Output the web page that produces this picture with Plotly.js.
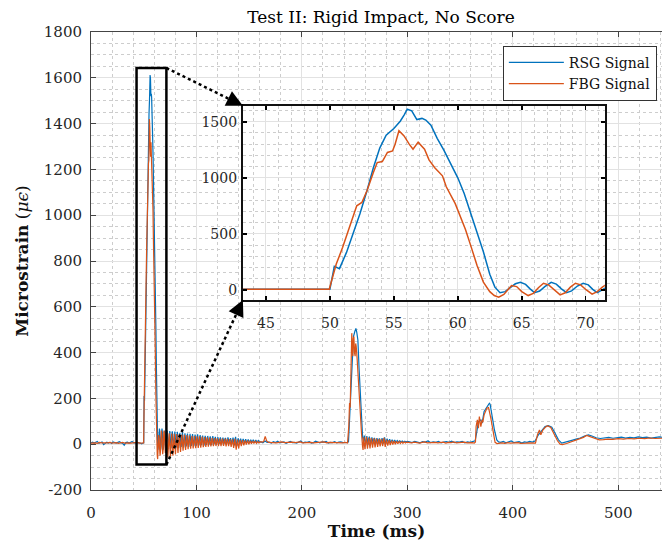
<!DOCTYPE html>
<html>
<head>
<meta charset="utf-8">
<script src="https://cdn.plot.ly/plotly-3.0.1.min.js"></script>
<style>html,body{margin:0;padding:0;background:#fff;}#chart{width:662px;height:541px;}</style>
</head>
<body>
<div id="chart"></div>
<script>
// ---------- RSG signal (time ms, microstrain) ----------
const rsgT0 = [0,1.5,3,4.5,6,7.5,9,10.5,12,13.5,15,16.5,18,19.5,21,22.5,24,25.5,27,28.5,30,31.5,33,34.5,36,37.5,39,40.5,42,43.5,45,46.5,48,49,50];
const rsgV0 = [6,9,5,8,12,4,7,10,-2,6,9,5,8,3,10,7,5,8,11,6,4,-4,7,9,5,8,12,6,7,6,7,5,2,4,6];
const rsgT1 = [50.35,50.75,51.3,51.8,52.35,52.9,53.4,53.9,54.4,55.0,55.5,55.8,56.05,56.4,56.8,57.2,57.5,57.9,58.4,58.9,59.5,60.0,60.5,61.0,61.5,62.0,62.5,62.9,63.3,63.7,64.1,64.5,64.9,65.3,65.65,66.0,66.4,66.8,67.3,67.7,68.1,68.5,68.9,69.35,69.8,70.2,70.55,70.9,71.3,71.7];
const rsgV1 = [210,190,335,498,680,885,1090,1265,1380,1440,1505,1560,1612,1598,1520,1530,1515,1470,1350,1250,1110,1000,860,690,520,340,140,25,-25,-15,20,55,68,50,10,-24,-10,30,68,52,10,-24,-8,35,59,45,5,-24,0,30];
const rsgT2 = [72.3,73.5,74.7,75.9,77.1,78.3,79.5,80.7,81.9,83.1,84.3,85.5,86.7,87.9,89.1,90.3,91.5,92.7,93.9,95.1,96.3,97.5,98.7,99.9,101.1,102.3,103.5,104.7,105.9,107.1,108.3,109.5,110.7,111.9,113.1,114.3,115.5,116.7,117.9,119.1,120.3,121.5,122.7,123.9,125.1,126.3,127.5,128.7,129.9,131.1,132.3,133.5,134.7,135.9,137.1,138.3,139.5,140.7,141.9,143.1,144.3,145.5,146.7,147.9,149.1,150.3,151.5,152.7,153.9,155.1,156.3,157.5,158.7,159.9];
const rsgV2 = [60,-22,58,-18,56,-20,55,-15,54,-16,50,-12,52,-14,48,-10,47,-12,45,-8,44,-9,42,-6,43,-5,40,-4,38,-6,37,-3,36,-2,34,-4,35,0,32,-2,31,1,30,0,29,2,28,1,30,3,27,2,29,-5,32,-8,26,4,24,5,23,4,22,6,21,5,20,7,19,6,18,8,16,9];
const rsgT3 = [161.5,163,165,167,169,171,173,175,177,179,181,183,185,187,189,191,193,195,197,199,201,203,205,207,209,211,213,215,217,219,221,223,225,227,229,231,233,235,237,239,241,243.5];
const rsgV3 = [10,6,14,8,9,5,11,7,13,6,8,10,4,9,12,7,8,5,10,14,6,9,8,11,5,7,13,8,6,10,9,12,5,8,7,11,6,9,10,7,8,8];
const rsgT4 = [244.2,245.5,247.4,248.9,250.2,251.2,252.0,253.1,254.3,256.2,257.6,258.4];
const rsgV4 = [12,150,354,470,492,506,490,455,324,135,30,12];
const rsgT5 = [259.2,260.4,261.6,262.8,264,265.2,266.4,267.6,268.8,270,271.2,272.4,273.6,274.8,276,277.2,278.4,279.6,280.8,282,283.2,284.4,285.6,286.8,288,289.2,290.4,291.6,292.8,294,295.2,296.4,297.6,298.8,300];
const rsgV5 = [38,-5,35,-2,33,0,30,2,28,1,27,3,25,4,26,3,30,2,24,5,22,6,20,7,18,8,16,9,15,10,14,9,13,10,12];
const rsgT6 = [302,304.5,307,309.5,312,314.5,317,319.5,322,324.5,327,329.5,332,334.5,337,339.5,342,344.5,347,349.5,352,354.5,357,359.5,362];
const rsgV6 = [10,7,12,8,6,11,9,14,7,10,8,12,6,9,11,8,13,7,10,9,12,6,10,8,11];
const rsgT7 = [364.3,365.9,367.4,369.7,370.9,372.8,375.4,377.8,378.5,380.1,382.6,384.8,386.5];
const rsgV7 = [15,55,99,106,92,143,165,179,175,128,62,19,10];
const rsgT8 = [388.5,391,393.5,396,398.5,401,403.5,406,408.5,411,413.5,416,418.5];
const rsgV8 = [8,12,6,10,14,7,9,11,5,10,8,12,9];
const rsgT9 = [421.1,424.3,427.5,430.6,433.8,437.0,440.1,443.3,446.4,449,452,456,460,464,468,471.7,475,479,483,487,491,495,499,503,507,511,515,519,523,527,531,535,539,542];
const rsgV9 = [14,41,62,77,81,74,48,19,5,9,13,17,22,27,36,41,36,28,25,28,30,26,29,31,27,30,28,32,29,31,27,30,32,30];

// ---------- FBG signal ----------
const fbgT0 = [0,2,4,6,8,10,12,14,16,18,20,22,24,26,28,30,32,34,36,38,40,42,44,46,48,49.95];
const fbgV0 = [5,7,6,4,8,6,5,7,6,8,5,6,7,4,6,8,5,7,6,5,7,6,8,5,6,6];
const fbgT1 = [50.2,50.5,51.0,51.55,52.1,52.5,52.9,53.4,53.7,54.1,54.5,54.9,55.1,55.4,55.8,56.2,56.5,56.9,57.4,57.75,58.2,58.8,59.1,59.8,60.2,60.6,61.0,61.5,62.0,62.5,62.85,63.2,63.6,63.9,64.2,64.6,65.0,65.5,65.9,66.3,66.7,67.1,67.55,68.0,68.4,68.8,69.2,69.6,70.05,70.5,70.9,71.3,71.7];
const fbgV1 = [110,231,380,564,750,780,884,1047,1136,1145,1226,1240,1300,1420,1374,1300,1255,1318,1255,1160,1090,1018,920,770,660,540,400,220,70,-15,-50,-65,-40,5,40,30,-15,-50,-30,20,60,45,0,-44,-25,25,60,45,0,-38,-15,25,55];
const fbgT2 = [72.9,74.1,75.3,76.5,77.7,78.9,80.1,81.3,82.5,83.7,84.9,86.1,87.3,88.5,89.7,90.9,92.1,93.3,94.5,95.7,96.9,98.1,99.3,100.5,101.7,102.9,104.1,105.3,106.5,107.7,108.9,110.1,111.3,112.5,113.7,114.9,116.1,117.3,118.5,119.7,120.9,122.1,123.3,124.5,125.7,126.9,128.1,129.3,130.5,131.7,132.9,134.1,135.3,136.5,137.7,138.9,140.1,141.3,142.5,143.7,144.9,146.1,147.3,148.5,149.7,150.9,152.1,153.3,154.5,155.7,156.9,158.1,159.3,160.5];
const fbgV2 = [-58,48,-55,47,-50,46,-44,44,-38,43,-34,42,-28,41,-25,40,-22,38,-20,37,-18,36,-17,35,-16,34,-15,33,-13,31,-12,30,-11,29,-10,28,-9,27,-8,26,-8,25,-9,24,-7,25,-10,23,-9,22,-12,21,-16,24,-24,20,-18,19,-8,18,-5,17,-2,16,0,15,2,14,3,13,4,12,5,11];
const fbgT3 = [162,163.8,165.2,166.6,168.5,171,173.5,176,178.5,181,183.5,186,188.5,191,193.5,196,198.5,201,203.5,206,208.5,211,213.5,216,218.5,221,223.5,226,228.5,231,233.5,236,238.5,241,243.3];
const fbgV3 = [9,12,34,14,8,7,9,6,8,10,7,8,6,9,7,8,10,6,7,9,8,6,8,7,9,10,6,8,7,9,8,7,6,8,5];
const fbgT4 = [244.5,245.2,245.8,246.4,246.8,247.3,247.8,248.3,248.8,249.3,249.9,250.5,251.0,251.5,252.3,253.1,254.2,255.3,256.5,257.5,258.0];
const fbgV4 = [80,180,160,400,300,485,420,384,460,470,400,384,440,427,380,310,220,135,50,-10,-25];
const fbgT5 = [258.6,259.8,261,262.2,263.4,264.6,265.8,267,268.2,269.4,270.6,271.8,273,274.2,275.4,276.6,277.8,279,280.2,281.4,282.6,283.8,285,286.2,287.4,288.6,289.8,291,292.2,293.4,294.6,295.8,297,298.2,299.4];
const fbgV5 = [30,-22,32,-20,29,-18,27,-15,26,-14,25,-12,23,-10,22,-8,28,-12,20,-6,18,-4,16,-2,14,0,13,2,12,3,11,4,10,5,9];
const fbgT6 = [301.5,304,306.5,309,311.5,314,316.5,319,321.5,324,326.5,329,331.5,334,336.5,339,341.5,344,346.5,349,351.5,354,356.5,359,361.5,363.5];
const fbgV6 = [8,6,9,7,5,8,10,6,7,9,8,6,7,9,5,8,7,10,6,8,7,9,6,8,7,5];
const fbgT7 = [364.6,365.2,366.4,367.4,368.3,369.7,370.9,371.5,372.8,375.4,377.0,379.2,381.7,383.2,385];
const fbgV7 = [10,77,106,70,121,77,106,95,128,157,160,113,40,8,3];
const fbgT8 = [387.5,390,392.5,395,397.5,400,402.5,405,407.5,410,412.5,415,417.5,421.5];
const fbgV8 = [5,6,4,7,5,6,5,7,4,6,5,6,5,5];
const fbgT9 = [423.4,424.3,425.3,426.6,428.5,430.6,432.9,436.0,439.2,442.4,444.9,447,451,455,459,463,467,470,474,478,482,486,490,495,500,505,510,515,520,525,530,535,540,542];
const fbgV9 = [41,55,62,41,62,73,81,73,41,15,0,-2,3,9,15,22,30,38,32,24,19,20,22,21,24,22,25,23,26,24,27,25,26,26];

// ---------- axes / labels ----------
const seriesNames = ['RSG Signal','FBG Signal'];
const mainXRange = [0, 541.5];
const mainYRange = [-200, 1800];
const yTickVals = [-200,0,200,400,600,800,1000,1200,1400,1600,1800];
const yTickText = ['-200','0','200','400','600','800','1000','1200','1400','1600','1800'];
const insetXRange = [43.2, 71.5];
const insetYRange = [-89, 1643];
const insetXDomain = [0.266, 0.900];
const insetYDomain = [0.415, 0.839];

const rsgT = [].concat(rsgT0,rsgT1,rsgT2,rsgT3,rsgT4,rsgT5,rsgT6,rsgT7,rsgT8,rsgT9);
const rsgV = [].concat(rsgV0,rsgV1,rsgV2,rsgV3,rsgV4,rsgV5,rsgV6,rsgV7,rsgV8,rsgV9);
const fbgT = [].concat(fbgT0,fbgT1,fbgT2,fbgT3,fbgT4,fbgT5,fbgT6,fbgT7,fbgT8,fbgT9);
const fbgV = [].concat(fbgV0,fbgV1,fbgV2,fbgV3,fbgV4,fbgV5,fbgV6,fbgV7,fbgV8,fbgV9);

const BLUE = '#0072BD', ORANGE = '#D95319';
const FONT = 'DejaVu Serif';

const traces = [
  {x: rsgT, y: rsgV, type:'scatter', mode:'lines', name: seriesNames[0], line:{color:BLUE, width:1.2}, xaxis:'x', yaxis:'y'},
  {x: fbgT, y: fbgV, type:'scatter', mode:'lines', name: seriesNames[1], line:{color:ORANGE, width:1.2}, xaxis:'x', yaxis:'y'},
  {x: rsgT, y: rsgV, type:'scatter', mode:'lines', showlegend:false, line:{color:BLUE, width:1.5}, xaxis:'x2', yaxis:'y2'},
  {x: fbgT, y: fbgV, type:'scatter', mode:'lines', showlegend:false, line:{color:ORANGE, width:1.5}, xaxis:'x2', yaxis:'y2'}
];

const W = 662, H = 541, M = {l:91, r:0, t:32, b:51};
const plotW = W - M.l - M.r, plotH = H - M.t - M.b;
const px = v => (v - mainXRange[0]) / (mainXRange[1] - mainXRange[0]);
const py = v => (v - mainYRange[0]) / (mainYRange[1] - mainYRange[0]);

const arrowPairs = [
  [[px(insetXRange[1]), py(insetYRange[1])], [insetXDomain[0], insetYDomain[1]]],
  [[px(insetXRange[1]), py(insetYRange[0])], [insetXDomain[0], insetYDomain[0]]]
];

const shapes = [
  {type:'rect', xref:'x2', yref:'y2', x0:insetXRange[0], x1:insetXRange[1], y0:insetYRange[0], y1:insetYRange[1], fillcolor:'#ffffff', line:{width:0}, layer:'below'},
  {type:'rect', xref:'x', yref:'y', x0:insetXRange[0], x1:insetXRange[1], y0:insetYRange[0], y1:insetYRange[1], line:{color:'#000', width:2.5}, layer:'above'}
];
const annotations = [];
arrowPairs.forEach(p => {
  const [a, b] = p;
  shapes.push({type:'line', xref:'paper', yref:'paper', x0:a[0], y0:a[1], x1:b[0], y1:b[1], line:{color:'#000', width:2.5, dash:'dot'}, layer:'above'});
  const dx = (a[0]-b[0])*plotW, dy = -(a[1]-b[1])*plotH;
  const len = Math.hypot(dx, dy);
  annotations.push({xref:'paper', yref:'paper', x:b[0], y:b[1], text:'', showarrow:true, arrowhead:2, arrowsize:1.3, arrowwidth:2.5, arrowcolor:'#000', ax: dx/len*16, ay: dy/len*16, standoff:0});
});

const gridMajor = '#e2e2e2', gridMinor = '#cdcdcd';
const layout = {
  width: W, height: H, margin: M,
  paper_bgcolor:'#fff', plot_bgcolor:'#fff',
  font:{family:FONT, size:15, color:'#262626'},
  title:{text:'Test II: Rigid Impact, No Score', font:{family:FONT, size:17, color:'#000'}, xref:'container', x:381/662, xanchor:'center', yref:'container', y:1-17/541, yanchor:'middle'},
  showlegend:true,
  legend:{x:0.991, y:0.970, xanchor:'right', yanchor:'top', bgcolor:'#fff', bordercolor:'#333', borderwidth:1, font:{family:FONT, size:14, color:'#111'}, itemwidth:55, tracegroupgap:0},
  xaxis:{range:mainXRange, tick0:0, dtick:100, ticks:'inside', ticklen:5, tickcolor:'#444', showline:true, linecolor:'#444', linewidth:1, mirror:'ticks', showgrid:true, gridcolor:gridMajor, gridwidth:1, zeroline:false,
    minor:{dtick:20, tick0:0, showgrid:true, gridcolor:gridMinor, griddash:'dot', gridwidth:1, ticks:''},
    ticklabelstandoff:9, tickfont:{size:15},
    title:{text:'<b>Time (ms)</b>', font:{family:FONT, size:17, color:'#111'}, standoff:4}},
  yaxis:{range:mainYRange, tickmode:'array', tickvals:yTickVals, ticktext:yTickText, ticks:'inside', ticklen:5, tickcolor:'#444', showline:true, linecolor:'#444', linewidth:1, mirror:false, showgrid:true, gridcolor:gridMajor, gridwidth:1, zeroline:false,
    minor:{dtick:50, tick0:0, showgrid:true, gridcolor:gridMinor, griddash:'dot', gridwidth:1, ticks:''},
    ticklabelstandoff:5, tickfont:{size:15},
    title:{text:'<b>Microstrain</b> (<i>μϵ</i>)', font:{family:FONT, size:17, color:'#111'}, standoff:10}},
  xaxis2:{domain:insetXDomain, anchor:'y2', range:insetXRange, tick0:0, dtick:5, ticks:'inside', ticklen:4, tickcolor:'#000', tickwidth:1.5, showline:true, linecolor:'#111', linewidth:2, mirror:'ticks', showgrid:true, gridcolor:gridMajor, zeroline:false,
    minor:{dtick:1, tick0:0, showgrid:true, gridcolor:gridMinor, griddash:'dot', ticks:''},
    ticklabelstandoff:9, tickfont:{size:14}},
  yaxis2:{domain:insetYDomain, anchor:'x2', range:insetYRange, tick0:0, dtick:500, ticks:'inside', ticklen:4, tickcolor:'#000', tickwidth:1.5, showline:true, linecolor:'#111', linewidth:2, mirror:'ticks', showgrid:true, gridcolor:gridMajor, zeroline:false,
    minor:{dtick:100, tick0:0, showgrid:true, gridcolor:gridMinor, griddash:'dot', ticks:''},
    ticklabelstandoff:1, tickfont:{size:14}},
  shapes: shapes,
  annotations: annotations
};

Plotly.newPlot('chart', traces, layout, {displayModeBar:false, staticPlot:true});
</script>
</body>
</html>
